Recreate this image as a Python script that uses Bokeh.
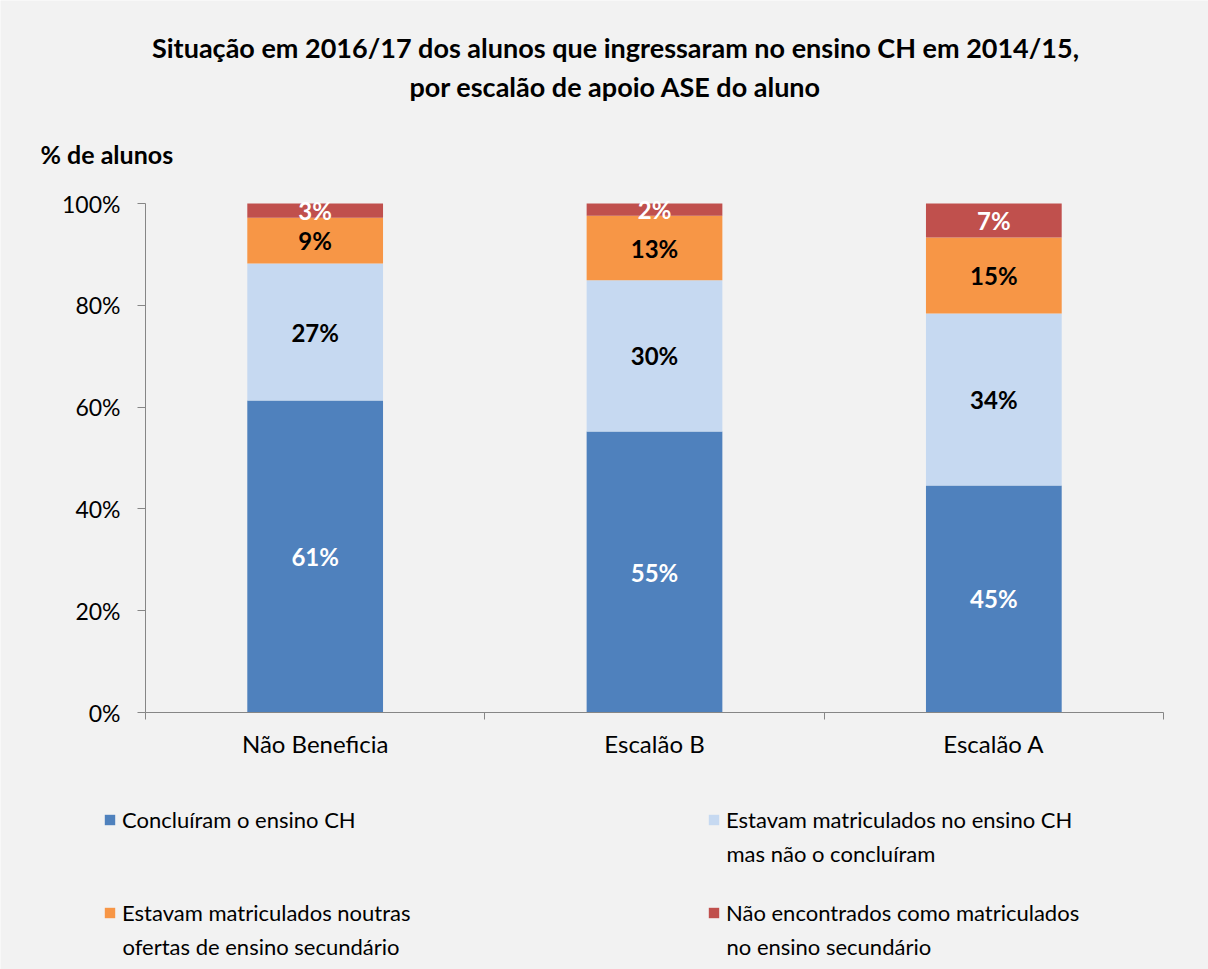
from bokeh.plotting import figure
from bokeh.models import (ColumnDataSource, Range1d, LinearAxis, FixedTicker,
                          PrintfTickFormatter, Label, Legend, LegendItem)
from bokeh.core.properties import value
from bokeh.embed import file_html
from bokeh.resources import INLINE

# ---------------- data ----------------
categories = ["Não Beneficia", "Escalão B", "Escalão A"]
concluiram = [61.3, 55.2, 44.6]
matriculados_ch = [26.9, 29.7, 33.8]
outras_ofertas = [9.0, 12.7, 14.9]
nao_encontrados = [2.8, 2.4, 6.7]

series_keys = ["concluiram", "matriculados_ch", "outras_ofertas", "nao_encontrados"]
series_labels = [
    "Concluíram o ensino CH",
    "Estavam matriculados no ensino CH\nmas não o concluíram",
    "Estavam matriculados noutras\nofertas de ensino secundário",
    "Não encontrados como matriculados\nno ensino secundário",
]
series_colors = ["#4F81BD", "#C6D9F1", "#F79646", "#C0504D"]
label_colors = ["white", "black", "black", "white"]
y_ticks = [0, 20, 40, 60, 80, 100]
title_lines = [
    "Situação em 2016/17 dos alunos que ingressaram no ensino CH em 2014/15,",
    "por escalão de apoio ASE do aluno",
]
y_title = "% de alunos"

FONT = "Lato"
BG = "#F2F2F2"
AXIS_COLOR = "#868686"

# ---------------- geometry (pixels) ----------------
W, H = 1208, 969
AX_L, AX_R, AX_T, AX_B = 145, 1163, 203, 712   # plot area: category span / 0..100 %
n = len(categories)
PX_X = (AX_R - AX_L) / n
PX_Y = (AX_B - AX_T) / 100.0

def dx(px):
    return (px - AX_L) / PX_X

def dy(py):
    return (AX_B - py) / PX_Y

p = figure(width=W, height=H,
           x_range=Range1d(dx(0), dx(W)), y_range=Range1d(dy(H), dy(0)),
           output_backend="svg", toolbar_location=None, title=None,
           min_border=0, min_border_left=0, min_border_right=0,
           min_border_top=0, min_border_bottom=0,
           background_fill_color=BG, border_fill_color=BG, outline_line_color=None)
p.grid.visible = False

data = dict(x=[i + 0.5 for i in range(n)], cat=categories, concluiram=concluiram,
            matriculados_ch=matriculados_ch, outras_ofertas=outras_ofertas,
            nao_encontrados=nao_encontrados)
src = ColumnDataSource(data)
renderers = p.vbar_stack(series_keys, x="x", width=0.4, color=series_colors,
                         line_color=None, source=src)

# data labels
lab = dict(x=[], mid=[], text=[], color=[])
for i in range(n):
    cum = 0.0
    for k, key in enumerate(series_keys):
        v = data[key][i]
        lab["x"].append(i + 0.5)
        lab["mid"].append(cum + v / 2)
        lab["text"].append(f"{round(v)}%")
        lab["color"].append(label_colors[k])
        cum += v
p.text(x="x", y="mid", text="text", source=ColumnDataSource(lab), text_color="color",
       text_align="center", text_baseline="middle", text_font=value(FONT),
       text_font_style="bold", text_font_size=value("24px"))

# y axis, pinned at the left edge of the categories
ya = p.yaxis[0]
ya.fixed_location = 0
ya.bounds = (0, 100)
ya.ticker = FixedTicker(ticks=y_ticks)
ya.formatter = PrintfTickFormatter(format="%d%%")
ya.major_tick_out = 8
ya.major_tick_in = 0
ya.minor_tick_line_color = None
ya.axis_line_color = AXIS_COLOR
ya.major_tick_line_color = AXIS_COLOR
ya.major_label_standoff = 17
ya.major_label_text_font = FONT
ya.major_label_text_font_size = "23px"
ya.major_label_text_color = "black"

# x axis: line at 0 % with ticks at category edges, plus category labels
xa = p.xaxis[0]
edge_ticks = list(range(n + 1))
xa.fixed_location = 0
xa.bounds = (0, n)
xa.ticker = FixedTicker(ticks=edge_ticks)
xa.major_label_overrides = {t: "" for t in edge_ticks}
xa.major_label_text_font_size = "1px"
xa.major_tick_out = 7
xa.major_tick_in = 0
xa.minor_tick_line_color = None
xa.axis_line_color = AXIS_COLOR
xa.major_tick_line_color = AXIS_COLOR

centers = [i + 0.5 for i in range(n)]
cat_axis = LinearAxis(fixed_location=0, ticker=FixedTicker(ticks=centers),
                      major_label_overrides={c: name for c, name in zip(centers, categories)},
                      axis_line_color=None, major_tick_line_color=None,
                      minor_tick_line_color=None, major_tick_out=0, major_tick_in=0,
                      major_label_standoff=16, major_label_text_font=FONT,
                      major_label_text_font_size="24px", major_label_text_color="black")
p.add_layout(cat_axis, "below")

# titles
for line, ypos in zip(title_lines, [47, 86]):
    p.add_layout(Label(x=dx(615), y=dy(ypos), text=line, text_align="center",
                       text_baseline="middle", text_font=FONT, text_font_style="bold",
                       text_font_size="27px", text_color="black"))
p.add_layout(Label(x=dx(40), y=dy(153), text=y_title, text_align="left",
                   text_baseline="middle", text_font=FONT, text_font_style="bold",
                   text_font_size="25px", text_color="black"))

# legend: one legend per entry (two columns, two rows); the first line of each
# entry sits next to its swatch, any further line is set just below it
GLYPH, STANDOFF, LEG_FONT, LINE_PITCH = 13, 6, 22, 32
leg_cols = [103, 707]
row_mid = [821, 914]          # vertical middle of the first text line of each row
LEG_H = 24                    # height of a one-line legend entry
for k, (r, lbl) in enumerate(zip(renderers, series_labels)):
    lx = leg_cols[k % 2]
    mid = row_mid[k // 2]
    lines = lbl.split("\n")
    lg = Legend(items=[LegendItem(label=lines[0], renderers=[r])],
                location=(lx, H - (mid + LEG_H / 2)),
                background_fill_alpha=0, border_line_alpha=0, padding=0, margin=0,
                spacing=0, glyph_width=GLYPH, glyph_height=GLYPH, label_standoff=STANDOFF,
                label_height=LEG_H, label_text_font=FONT,
                label_text_font_size=f"{LEG_FONT}px", label_text_color="black")
    p.add_layout(lg)
    for j, extra in enumerate(lines[1:], start=1):
        p.add_layout(Label(x=dx(lx + GLYPH + STANDOFF), y=dy(mid + j * LINE_PITCH),
                           text=extra, text_align="left", text_baseline="middle",
                           text_font=FONT, text_font_size=f"{LEG_FONT}px",
                           text_color="black"))

open("out.html", "w").write(file_html(p, INLINE))
